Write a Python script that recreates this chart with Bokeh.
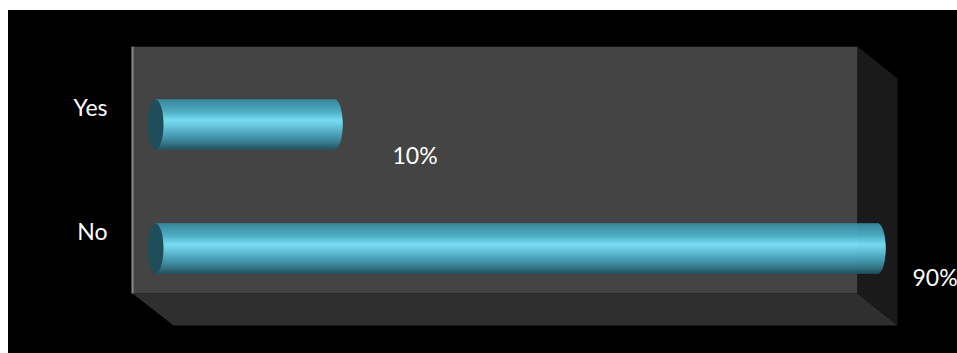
from bokeh.core.properties import value
from bokeh.embed import file_html
from bokeh.models import ColumnDataSource, FixedTicker, Range1d
from bokeh.plotting import figure
from bokeh.resources import INLINE
import numpy as np

# Survey result shown as horizontal cylinders on a pseudo-3D chart box
categories = ["No", "Yes"]
percent = [90, 10]
percent_labels = ["90%", "10%"]

# Layout in screen pixels
PAGE_W, PAGE_H = 957, 353
BLACK_L, BLACK_T = 8, 10
FRAME_L, FRAME_R, FRAME_T, FRAME_B = 132, 957, 46, 353
WALL_R, WALL_B = 857, 293
DEPTH_X, DEPTH_Y = 40, 32

# Scale calibration: percent -> px, category index -> px
PX_PER_PERCENT = 543 / 80
PX_AT_ZERO = 266
PX_NO_TICK, PX_PER_CAT = 230, 124


def xd(px):
    return (px - PX_AT_ZERO) / PX_PER_PERCENT


def yd(px):
    return (PX_NO_TICK - px) / PX_PER_CAT


# The black ground comes from the host element, so the canvas stays unfilled
p = figure(
    width=PAGE_W - BLACK_L,
    height=PAGE_H - BLACK_T,
    output_backend="svg",
    toolbar_location=None,
    x_range=Range1d(xd(FRAME_L), xd(FRAME_R)),
    y_range=Range1d(yd(FRAME_B), yd(FRAME_T)),
    min_border_left=FRAME_L - BLACK_L,
    min_border_right=0,
    min_border_top=FRAME_T - BLACK_T,
    min_border_bottom=0,
    border_fill_color=None,
    background_fill_color=None,
    outline_line_color=None,
    margin=(BLACK_T, 0, 0, BLACK_L),
    styles={"background-color": "#000000"},
)
p.grid.visible = False
p.xaxis.visible = False

# Back wall, floor and side panel of the box
p.patch(xd(np.array([FRAME_L, WALL_R, WALL_R, FRAME_L])),
        yd(np.array([FRAME_T, FRAME_T, WALL_B, WALL_B])),
        fill_color="#444444", fill_alpha=1, line_color=None)
p.patch(xd(np.array([FRAME_L, WALL_R, WALL_R + DEPTH_X, FRAME_L + DEPTH_X + 1])),
        yd(np.array([WALL_B, WALL_B, WALL_B + DEPTH_Y, WALL_B + DEPTH_Y])),
        fill_color="#2f2f2f", fill_alpha=1, line_color=None)
p.patch(xd(np.array([WALL_R, WALL_R + DEPTH_X, WALL_R + DEPTH_X, WALL_R])),
        yd(np.array([FRAME_T, FRAME_T + DEPTH_Y, WALL_B + DEPTH_Y, WALL_B])),
        fill_color="#1a1a1a", fill_alpha=1, line_color=None)

# Cylinder shading from top to bottom
stops_t = [0.0, 0.06, 0.25, 0.42, 0.55, 0.72, 0.88, 1.0]
stops_r = [0x38, 0x3f, 0x50, 0x7c, 0x6a, 0x4a, 0x36, 0x24]
stops_g = [0x88, 0x96, 0xb4, 0xe8, 0xcc, 0xa4, 0x7c, 0x56]
stops_b = [0x9c, 0xac, 0xcc, 0xff, 0xe4, 0xbc, 0x8e, 0x64]

BAR_HALF_H = 25
CAP_HALF_W = 8
BAR_DROP = 18
PX_BAR_START = 155

rows = np.arange(-BAR_HALF_H, BAR_HALF_H)
strip = dict(left=[], right=[], top=[], bottom=[], color=[])
for idx, pct in enumerate(percent):
    centre_px = PX_NO_TICK - idx * PX_PER_CAT + BAR_DROP
    end_px = PX_AT_ZERO + pct * PX_PER_PERCENT
    for r in rows:
        t = (r + 0.5 + BAR_HALF_H) / (2 * BAR_HALF_H)
        bulge = CAP_HALF_W * np.sqrt(max(0.0, 1 - (2 * t - 1) ** 2))
        rgb = [int(np.interp(t, stops_t, s)) for s in (stops_r, stops_g, stops_b)]
        strip["left"].append(xd(PX_BAR_START))
        strip["right"].append(xd(end_px + bulge))
        strip["top"].append(yd(centre_px + r))
        strip["bottom"].append(yd(centre_px + r + 1))
        strip["color"].append("#%02x%02x%02x" % tuple(rgb))
# A hairline in each strip's own colour closes the gaps between neighbours
p.quad(left="left", right="right", top="top", bottom="bottom", fill_color="color",
       fill_alpha=1, line_color="color", line_width=0.5, line_alpha=1,
       source=ColumnDataSource(strip))

# Dark circular end cap at the base of each cylinder
p.ellipse(x=[xd(PX_BAR_START)] * 2,
          y=[yd(PX_NO_TICK - i * PX_PER_CAT + BAR_DROP) for i in range(2)],
          width=2 * CAP_HALF_W / PX_PER_PERCENT,
          height=2 * BAR_HALF_H / PX_PER_CAT,
          fill_color="#1f4d5a", fill_alpha=1, line_color=None)

# Value labels
LABEL_X = {90: 912, 10: 392}
LABEL_Y = {90: 276, 10: 154}
p.text(x=[xd(LABEL_X[v]) for v in percent],
       y=[yd(LABEL_Y[v]) for v in percent],
       text=percent_labels,
       text_color="#ffffff",
       text_font=value("Lato"),
       text_font_size="23px",
       text_align="left",
       text_baseline="middle")

# Category axis: a grey rule along the wall's left edge
axis = p.yaxis[0]
axis.ticker = FixedTicker(ticks=[0, 1])
axis.major_label_overrides = {i: c for i, c in enumerate(categories)}
axis.major_label_text_color = "#ffffff"
axis.major_label_text_font = "Lato"
axis.major_label_text_font_size = "23px"
axis.major_label_standoff = 25
axis.major_tick_line_color = None
axis.major_tick_out = 0
axis.major_tick_in = 0
axis.minor_tick_line_color = None
axis.axis_line_color = "#8a8a8a"
axis.axis_line_width = 2
axis.bounds = (yd(WALL_B), yd(FRAME_T))

open("out.html", "w").write(file_html(p, INLINE))
